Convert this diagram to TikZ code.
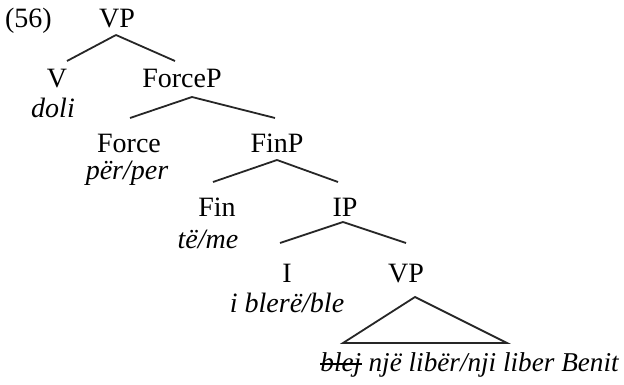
\documentclass[tikz,border=0pt]{standalone}
\usepackage{fontspec}
\setmainfont{Liberation Serif}
\usetikzlibrary{positioning}

\begin{document}
\begin{tikzpicture}[x=0.5pt,y=-0.5pt,
    cat/.style={font=\fontsize{14}{17}\selectfont,inner sep=0pt,outer sep=3.5pt,
      text height=9pt,text depth=0pt,anchor=base},
    word/.style={font=\fontsize{14}{17}\selectfont\itshape,inner sep=0pt,anchor=base},
    branch/.style={line width=0.9pt,black!85}]
  \useasboundingbox (0,0) rectangle (624,384);
  \node[cat,outer sep=0pt,anchor=base west] (ex) at (5,28) {(56)};
  \node[cat] (vp) at (117,28) {VP};
  \node[cat] (v) at (57,88) {V};
  \node[word] (vw) at (53,118) {doli};
  \node[cat] (forcep) at (182,88) {ForceP};
  \node[cat] (force) at (129,153) {Force};
  \node[word] (forcew) at (127,180) {për/per};
  \node[cat] (finp) at (277,153) {FinP};
  \node[cat] (fin) at (217,217) {Fin};
  \node[word] (finw) at (208,248) {të/me};
  \node[cat] (ip) at (345,217) {IP};
  \node[cat] (i) at (287,282) {I};
  \node[word] (iw) at (287,312) {i blerë/ble};
  \node[cat] (vpb) at (406,282) {VP};
  \node[word,font=\fontsize{13.6}{17}\selectfont\itshape,anchor=base west] (strk) at (320,371) {blej};
  \node[word,font=\fontsize{13.6}{17}\selectfont\itshape,anchor=base west,xshift=3.3pt] (vpw) at (strk.base east) {një libër/nji liber Benit};
  \coordinate (tl) at (343,343);
  \coordinate (tr) at (507,343);
  % branches
  \draw[branch] ([xshift=-0.5pt]vp.south) -- ([xshift=5pt,yshift=1pt]v.north);
  \draw[branch] ([xshift=-0.5pt]vp.south) -- ([xshift=-3.5pt,yshift=1pt]forcep.north);
  \draw[branch] ([xshift=5pt,yshift=-1pt]forcep.south) -- ([xshift=0.5pt,yshift=5pt]force.north);
  \draw[branch] ([xshift=5pt,yshift=-1pt]forcep.south) -- ([xshift=-1pt,yshift=5pt]finp.north);
  \draw[branch] (finp.south) -- ([xshift=-2pt,yshift=5pt]fin.north);
  \draw[branch] (finp.south) -- ([xshift=-3.5pt,yshift=5pt]ip.north);
  \draw[branch] ([xshift=-1pt,yshift=1pt]ip.south) -- ([xshift=-3.5pt,yshift=7pt]i.north);
  \draw[branch] ([xshift=-1pt,yshift=1pt]ip.south) -- ([yshift=7pt]vpb.north);
  \draw[branch] ([xshift=4.5pt,yshift=-4pt]vpb.south) -- (tl) -- (tr) -- cycle;
  % strike through
  \draw[line width=0.6pt] ([yshift=3.5pt]strk.base west) -- ([yshift=3.5pt]strk.base east);
\end{tikzpicture}
\end{document}
